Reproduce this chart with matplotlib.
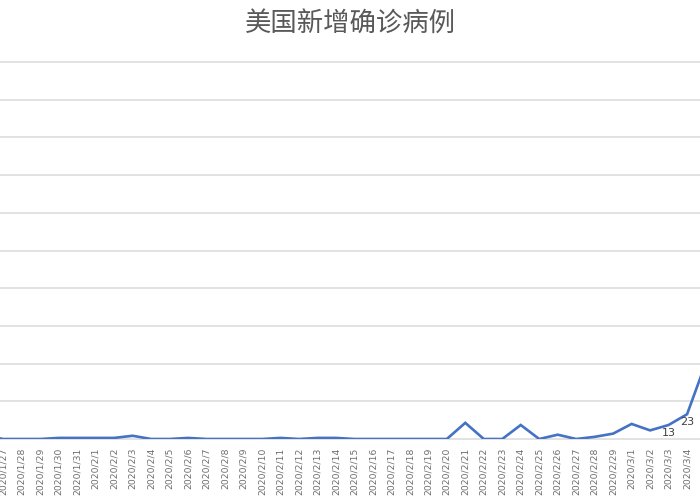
import matplotlib
matplotlib.use("Agg")
import matplotlib.pyplot as plt

plt.rcParams['font.family'] = ['Noto Sans CJK SC', 'DejaVu Sans']

# daily new cases (first and last day sit outside the crop)
dates = ["2020/1/26", "2020/1/27", "2020/1/28", "2020/1/29", "2020/1/30", "2020/1/31",
         "2020/2/1", "2020/2/2", "2020/2/3", "2020/2/4", "2020/2/5", "2020/2/6",
         "2020/2/7", "2020/2/8", "2020/2/9", "2020/2/10", "2020/2/11", "2020/2/12",
         "2020/2/13", "2020/2/14", "2020/2/15", "2020/2/16", "2020/2/17", "2020/2/18",
         "2020/2/19", "2020/2/20", "2020/2/21", "2020/2/22", "2020/2/23", "2020/2/24",
         "2020/2/25", "2020/2/26", "2020/2/27", "2020/2/28", "2020/2/29", "2020/3/1",
         "2020/3/2", "2020/3/3", "2020/3/4", "2020/3/5"]
new_cases = [3, 0, 0, 0, 1, 1,
             1, 1, 3, 0, 0, 1,
             0, 0, 0, 0, 1, 0,
             1, 1, 0, 0, 0, 0,
             0, 0, 15, 0, 0, 13,
             0, 4, 0, 2, 5, 14,
             8, 13, 23, 70]
labeled = ["2020/3/3", "2020/3/4"]
y_step = 35

fig = plt.figure(figsize=(7, 5), dpi=100)
ax = fig.add_axes([0, 0.122, 1, 0.754])

x = list(range(len(dates)))
ax.plot(x, new_cases, color='#4472C4', lw=1.9, solid_joinstyle='miter', zorder=3)

for i, (d, v) in enumerate(zip(dates, new_cases)):
    if d in labeled:
        ax.annotate(str(v), (i, v), xytext=(0, -8), textcoords='offset pixels',
                    ha='center', va='center', fontsize=8, color='#404040',
                    family=['DejaVu Sans'])

ax.set_xticks(x)
ax.set_xticklabels(dates, rotation=90, fontsize=6.7, color='#6e6e6e',
                   family=['DejaVu Sans'])
ax.set_yticks([y_step * k for k in range(11)])
# limits after the ticks, set_xticks would widen the view again
ax.set_xlim(0.821, 38.70)
ax.set_ylim(0, y_step * 10)

ax.grid(axis='y', color='#e2e2e2', lw=1.4)
for gl in ax.get_ygridlines():
    gl.set_clip_on(False)
ax.set_axisbelow(True)
for s in ax.spines.values():
    s.set_visible(False)
ax.tick_params(axis='x', length=0, pad=6)
ax.tick_params(axis='y', length=0, labelleft=False)

fig.text(0.5, 1 - 23 / 500, "美国新增确诊病例", ha='center', va='center',
         fontsize=19, color='#595959')

fig.savefig("out.png", dpi=100)
